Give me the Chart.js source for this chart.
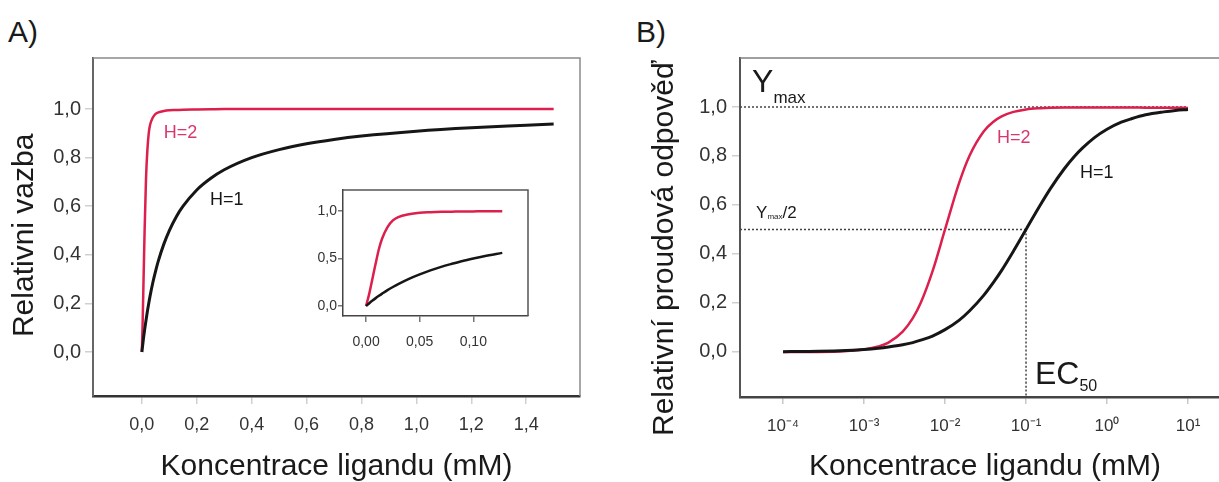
<!DOCTYPE html>
<html>
<head>
<meta charset="utf-8">
<script src="https://cdn.jsdelivr.net/npm/chart.js@4.4.1/dist/chart.umd.min.js"></script>
<style>
  html, body { margin: 0; padding: 0; background: #fff; overflow: hidden; }
  body { width: 1219px; height: 482px; position: relative; font-family: "Liberation Sans", Arial, sans-serif; }
  canvas { position: absolute; }
  #chartA { left: 0; top: 0; }
  #inset { left: 295px; top: 180px; background: #fff; }
  #chartB { left: 600px; top: 0; }
  .panel { position: absolute; font-size: 30px; line-height: 30px; color: #1a1a1a; }
</style>
</head>
<body>
<div class="panel" style="left:8px; top:17px">A)</div>
<div class="panel" style="left:636px; top:17px">B)</div>
<canvas id="chartA" width="600" height="482"></canvas>
<canvas id="inset" width="240" height="170"></canvas>
<canvas id="chartB" width="640" height="482"></canvas>
<script>
/* A) binding vs concentration (mM), linear axis */
const concA = [0, 0.003, 0.006, 0.01, 0.015, 0.02, 0.025, 0.03, 0.04, 0.05, 0.06, 0.08, 0.1, 0.125, 0.15, 0.2, 0.25, 0.3, 0.4, 0.5, 0.6, 0.7, 0.8, 1.0, 1.2, 1.4, 1.5]
const bindH1A = [0, 0.029, 0.057, 0.091, 0.13, 0.167, 0.2, 0.231, 0.286, 0.333, 0.375, 0.444, 0.5, 0.556, 0.6, 0.667, 0.714, 0.75, 0.8, 0.833, 0.857, 0.875, 0.889, 0.909, 0.923, 0.933, 0.938]
const bindH2A = [0, 0.13, 0.29, 0.5, 0.71, 0.83, 0.9, 0.935, 0.965, 0.98, 0.986, 0.992, 0.995, 0.996, 0.997, 0.998, 0.999, 1, 1, 1, 1, 1, 1, 1, 1, 1, 1]

/* inset of A, low concentrations */
const concInset = [0, 0.003, 0.006, 0.009, 0.012, 0.015, 0.02, 0.025, 0.03, 0.04, 0.05, 0.06, 0.07, 0.08, 0.09, 0.1, 0.11, 0.127]
const bindH1Inset = [0, 0.029, 0.057, 0.083, 0.107, 0.13, 0.167, 0.2, 0.231, 0.286, 0.333, 0.375, 0.412, 0.444, 0.474, 0.5, 0.524, 0.559]
const bindH2Inset = [0, 0.13, 0.29, 0.45, 0.6, 0.71, 0.83, 0.9, 0.935, 0.965, 0.98, 0.986, 0.99, 0.992, 0.994, 0.995, 0.996, 0.997]

/* B) response vs concentration (mM), log axis */
const concB = [1e-4, 2e-4, 5e-4, 1e-3, 1.5e-3, 2e-3, 3e-3, 4e-3, 5e-3, 7e-3, 0.01, 0.015, 0.02, 0.03, 0.04, 0.05, 0.07, 0.1, 0.15, 0.2, 0.3, 0.4, 0.5, 0.7, 1, 1.5, 2, 3, 5, 7, 10]
const respH1B = [0.001, 0.002, 0.005, 0.01, 0.015, 0.02, 0.029, 0.038, 0.048, 0.065, 0.091, 0.13, 0.167, 0.231, 0.286, 0.333, 0.412, 0.5, 0.6, 0.667, 0.75, 0.8, 0.833, 0.875, 0.909, 0.938, 0.952, 0.968, 0.98, 0.986, 0.99]
const respH2B = [0, 0, 0.002, 0.01, 0.022, 0.038, 0.083, 0.138, 0.2, 0.329, 0.5, 0.692, 0.8, 0.9, 0.941, 0.962, 0.98, 0.99, 0.995, 0.997, 0.998, 0.998, 0.998, 0.998, 0.998, 0.998, 0.998, 0.997, 0.997, 0.997, 0.996]

/* reference values in B */
const yMax = 1
const halfMax = 0.5
const ec50 = 0.1
const lastConcB = 10

/* tick values */
const ticksAx = [0, 0.2, 0.4, 0.6, 0.8, 1.0, 1.2, 1.4]
const ticksAy = [0, 0.2, 0.4, 0.6, 0.8, 1.0]
const ticksInsetX = [0, 0.05, 0.1]
const ticksInsetY = [0, 0.5, 1.0]
const ticksBx = [1e-4, 1e-3, 1e-2, 1e-1, 1, 10]
const ticksBy = [0, 0.2, 0.4, 0.6, 0.8, 1.0]

/* axis ranges */
const rangeAx = [-0.178, 1.596], rangeAy = [-0.181, 1.21]
const rangeInsetX = [-0.0215, 0.151], rangeInsetY = [-0.105, 1.22]
const rangeBx = [2.94e-5, 33], rangeBy = [-0.184, 1.2]

const FONT = '"Liberation Sans", Arial, sans-serif'
const RED = '#dc1f4c'
const PINK = '#d8376a'
const BLACK = '#161616'

Chart.defaults.font.family = FONT
Chart.defaults.color = '#333'

const comma = (v, d) => v.toFixed(d).replace('.', ',')
const SUP = { '-': '\u207B', '0': '\u2070', '1': '\u00B9', '2': '\u00B2', '3': '\u00B3', '4': '\u2074' }
const powerLabel = v => '10' + String(Math.round(Math.log10(v))).split('').map(c => SUP[c]).join('')

const curve = (xs, ys, color, width, dash) => ({
    data: xs.map((x, i) => ({ x, y: ys[i] })),
    borderColor: color,
    borderWidth: width,
    borderDash: dash || [],
    pointRadius: 0,
    cubicInterpolationMode: 'monotone',
    fill: false
})

/* top + right edge of the plot box */
const frame = {
    id: 'frame',
    beforeDatasetsDraw (chart, args, opts) {
        const { ctx, chartArea: a } = chart
        ctx.save()
        ctx.strokeStyle = opts.color
        ctx.lineWidth = opts.width
        ctx.beginPath()
        ctx.moveTo(a.left, a.top)
        ctx.lineTo(a.right, a.top)
        ctx.lineTo(a.right, a.bottom)
        ctx.stroke()
        ctx.restore()
    }
}

/* text marks placed at data coordinates, parts drawn one after another */
function textMarks (items) {
    return {
        id: 'textMarks',
        afterDatasetsDraw (chart) {
            const { ctx, scales } = chart
            ctx.save()
            ctx.textBaseline = 'middle'
            ctx.textAlign = 'left'
            for (const item of items) {
                let px = scales.x.getPixelForValue(item.x)
                const py = scales.y.getPixelForValue(item.y)
                ctx.fillStyle = item.color
                for (const p of item.parts) {
                    ctx.font = `${p.size}px ${FONT}`
                    ctx.fillText(p.text, px, py + (p.dy || 0))
                    px += ctx.measureText(p.text).width
                }
            }
            ctx.restore()
        }
    }
}

const labelsA = [
    { x: 0.08, y: 0.901, color: PINK, parts: [{ text: 'H=2', size: 18 }] },
    { x: 0.248, y: 0.626, color: BLACK, parts: [{ text: 'H=1', size: 18 }] }
]

const labelsB = [
    { x: 4.14e-5, y: 1.098, color: '#1a1a1a', parts: [{ text: 'Y', size: 32 }, { text: 'max', size: 17, dy: 15 }] },
    { x: 4.64e-5, y: 0.567, color: '#1a1a1a', parts: [{ text: 'Y', size: 17 }, { text: 'max', size: 8, dy: 4 }, { text: '/2', size: 17 }] },
    { x: 0.0438, y: 0.873, color: PINK, parts: [{ text: 'H=2', size: 18 }] },
    { x: 0.464, y: 0.731, color: BLACK, parts: [{ text: 'H=1', size: 18 }] },
    { x: 0.129, y: -0.094, color: '#1a1a1a', parts: [{ text: 'EC', size: 32 }, { text: '50', size: 16, dy: 12 }] }
]

const noPlugins = { legend: { display: false }, tooltip: { enabled: false } }
const setTicks = list => ax => { ax.ticks = list.map(value => ({ value })) }

/* Chart A */
new Chart(document.getElementById('chartA'), {
    type: 'line',
    data: {
        datasets: [
            curve(concA, bindH1A, BLACK, 3),
            curve(concA, bindH2A, RED, 2.5)
        ]
    },
    options: {
        responsive: false,
        animation: false,
        layout: { padding: { top: 58, right: 20, bottom: 0, left: 0 } },
        plugins: { ...noPlugins, frame: { color: '#8a8a8a', width: 1.5 } },
        scales: {
            x: {
                type: 'linear', min: rangeAx[0], max: rangeAx[1],
                afterBuildTicks: setTicks(ticksAx),
                afterFit: ax => { ax.height = 86 },
                ticks: { padding: 10, maxRotation: 0, autoSkip: false, font: { size: 18 }, color: '#333', callback: v => comma(v, 1) },
                grid: { drawOnChartArea: false, tickLength: 8, color: '#d0d0d0', lineWidth: 1.5 },
                border: { color: '#333', width: 2.5 },
                title: { display: true, text: 'Koncentrace ligandu (mM)', color: '#1a1a1a', font: { size: 30, lineHeight: 1 }, padding: { top: 0, bottom: 0 } }
            },
            y: {
                type: 'linear', min: rangeAy[0], max: rangeAy[1],
                afterBuildTicks: setTicks(ticksAy),
                afterFit: ax => { ax.width = 93 },
                ticks: { padding: 4, font: { size: 20 }, color: '#333', callback: v => comma(v, 1) },
                grid: { drawOnChartArea: false, tickLength: 8, color: '#d0d0d0', lineWidth: 1.5 },
                border: { color: '#666', width: 2 },
                // trailing spaces push the centred title a little lower, as in the figure
                title: { display: true, text: 'Relativni vazba  ', color: '#1a1a1a', font: { size: 30, lineHeight: 1 }, padding: { top: 10, bottom: 0 } }
            }
        }
    },
    plugins: [frame, textMarks(labelsA)]
})

/* Inset of A */
new Chart(document.getElementById('inset'), {
    type: 'line',
    data: {
        datasets: [
            curve(concInset, bindH1Inset, BLACK, 2.5),
            curve(concInset, bindH2Inset, RED, 2.5)
        ]
    },
    options: {
        responsive: false,
        animation: false,
        layout: { padding: { top: 10, right: 7, bottom: 0, left: 0 } },
        plugins: { ...noPlugins, frame: { color: '#555', width: 1.5 } },
        scales: {
            x: {
                type: 'linear', min: rangeInsetX[0], max: rangeInsetX[1],
                afterBuildTicks: setTicks(ticksInsetX),
                afterFit: ax => { ax.height = 34 },
                ticks: { padding: 12, maxRotation: 0, autoSkip: false, font: { size: 14 }, color: '#333', callback: v => comma(v, 2) },
                grid: { drawOnChartArea: false, tickLength: 6, color: '#777', lineWidth: 1.5 },
                border: { color: '#444', width: 1.5 }
            },
            y: {
                type: 'linear', min: rangeInsetY[0], max: rangeInsetY[1],
                afterBuildTicks: setTicks(ticksInsetY),
                afterFit: ax => { ax.width = 48 },
                ticks: { padding: 1, font: { size: 14 }, color: '#333', callback: v => comma(v, 1) },
                grid: { drawOnChartArea: false, tickLength: 5, color: '#777', lineWidth: 1.5 },
                border: { color: '#444', width: 1.5 }
            }
        }
    },
    plugins: [frame]
})

/* Chart B */
new Chart(document.getElementById('chartB'), {
    type: 'line',
    data: {
        datasets: [
            curve(concB, respH1B, BLACK, 3),
            curve(concB, respH2B, RED, 2.5),
            curve([rangeBx[0], lastConcB], [yMax, yMax], '#444', 1.5, [2, 2]),
            curve([rangeBx[0], ec50], [halfMax, halfMax], '#444', 1.5, [2, 2]),
            curve([ec50, ec50], [halfMax, rangeBy[0]], '#444', 1.5, [2, 2])
        ]
    },
    options: {
        responsive: false,
        animation: false,
        layout: { padding: { top: 58, right: 10, bottom: 0, left: 0 } },
        plugins: { ...noPlugins, frame: { color: '#808080', width: 1.5 } },
        scales: {
            x: {
                type: 'logarithmic', min: rangeBx[0], max: rangeBx[1],
                afterBuildTicks: setTicks(ticksBx),
                afterFit: ax => { ax.height = 85 },
                ticks: { padding: 12, maxRotation: 0, autoSkip: false, font: { size: 17 }, color: '#333', callback: v => powerLabel(v) },
                grid: { drawOnChartArea: false, tickLength: 7, color: '#c8c8c8', lineWidth: 1.5 },
                border: { color: '#444', width: 2.5 },
                title: { display: true, text: 'Koncentrace ligandu (mM)', color: '#1a1a1a', font: { size: 30, lineHeight: 1 }, padding: { top: 0, bottom: 0 } }
            },
            y: {
                type: 'linear', min: rangeBy[0], max: rangeBy[1],
                afterBuildTicks: setTicks(ticksBy),
                afterFit: ax => { ax.width = 140 },
                ticks: { padding: 5, font: { size: 20 }, color: '#333', callback: v => comma(v, 1) },
                grid: { drawOnChartArea: false, tickLength: 8, color: '#d0d0d0', lineWidth: 1.5 },
                border: { color: '#555', width: 2 },
                // trailing spaces push the centred title down, clear of "B)"
                title: { display: true, text: 'Relativní proudová odpověď     ', color: '#1a1a1a', font: { size: 30, lineHeight: 1 }, padding: { top: 50, bottom: 0 } }
            }
        }
    },
    plugins: [frame, textMarks(labelsB)]
})
</script>
</body>
</html>
